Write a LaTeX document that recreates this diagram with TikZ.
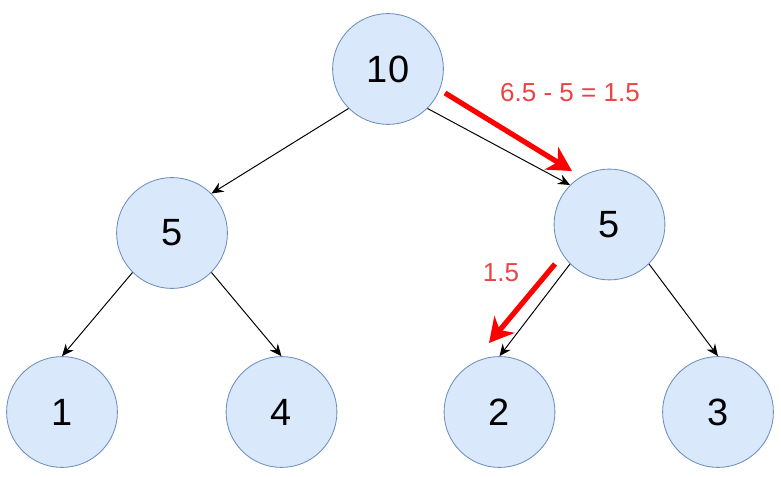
\documentclass[tikz,border=0pt]{standalone}
\usepackage{fontspec}
\setmainfont{Liberation Sans}
\usetikzlibrary{arrows.meta}
\definecolor{nodefill}{HTML}{DAE8FC}
\definecolor{nodeline}{HTML}{6C8EBF}
\definecolor{difftext}{RGB}{234,67,67}
\tikzset{
  heapnode/.style={circle, draw=nodeline, fill=nodefill, line width=0.6pt,
    minimum size=2.77cm, inner sep=0pt, font=\fontsize{27}{30}\selectfont},
  heapedge/.style={-{Stealth[length=3mm,width=2.6mm,inset=1mm]}, line width=0.7pt, black},
  pushdown/.style={line width=1.3mm, -{Stealth[length=6mm,width=6.5mm,inset=1.8mm]}, red},
  difflabel/.style={text=difftext, font=\fontsize{18.5}{20}\selectfont}
}
\begin{document}
\begin{tikzpicture}[x=0.025cm, y=-0.025cm]
\useasboundingbox (0,0) rectangle (781,477);

\node[heapnode] (root) at (388,69) {10};
\node[heapnode] (left) at (172,233) {5};
\node[heapnode] (right) at (609.5,224.5) {5};
\node[heapnode] (one) at (62,412) {1};
\node[heapnode] (four) at (281.5,412) {4};
\node[heapnode] (two) at (499.5,412) {2};
\node[heapnode] (three) at (718,412) {3};

\draw[heapedge] (root.south west) -- (left.north east);
\draw[heapedge] (root.south east) -- (right.north west);
\draw[heapedge] (left.south west) -- (one.north);
\draw[heapedge] (left.south east) -- (four.north);
\draw[heapedge] (right.south west) -- (two.north);
\draw[heapedge] (right.south east) -- (three.north);

    \coordinate (a1) at (445,93); \coordinate (a2) at (572,171);
    \draw[pushdown] (a1) -- (a2) ;%pushed from root
    \coordinate (b1) at (555,264); \coordinate (b2) at (489,343);
    \draw[pushdown] (b1) -- (b2) ;%pushed to leaf
    \node[difflabel] (rootdiff) at (570,93) {6.5 - 5 = 1.5};
    \node[difflabel] (leafdiff) at (501,273) {1.5};
     \end{tikzpicture}
\end{document}
